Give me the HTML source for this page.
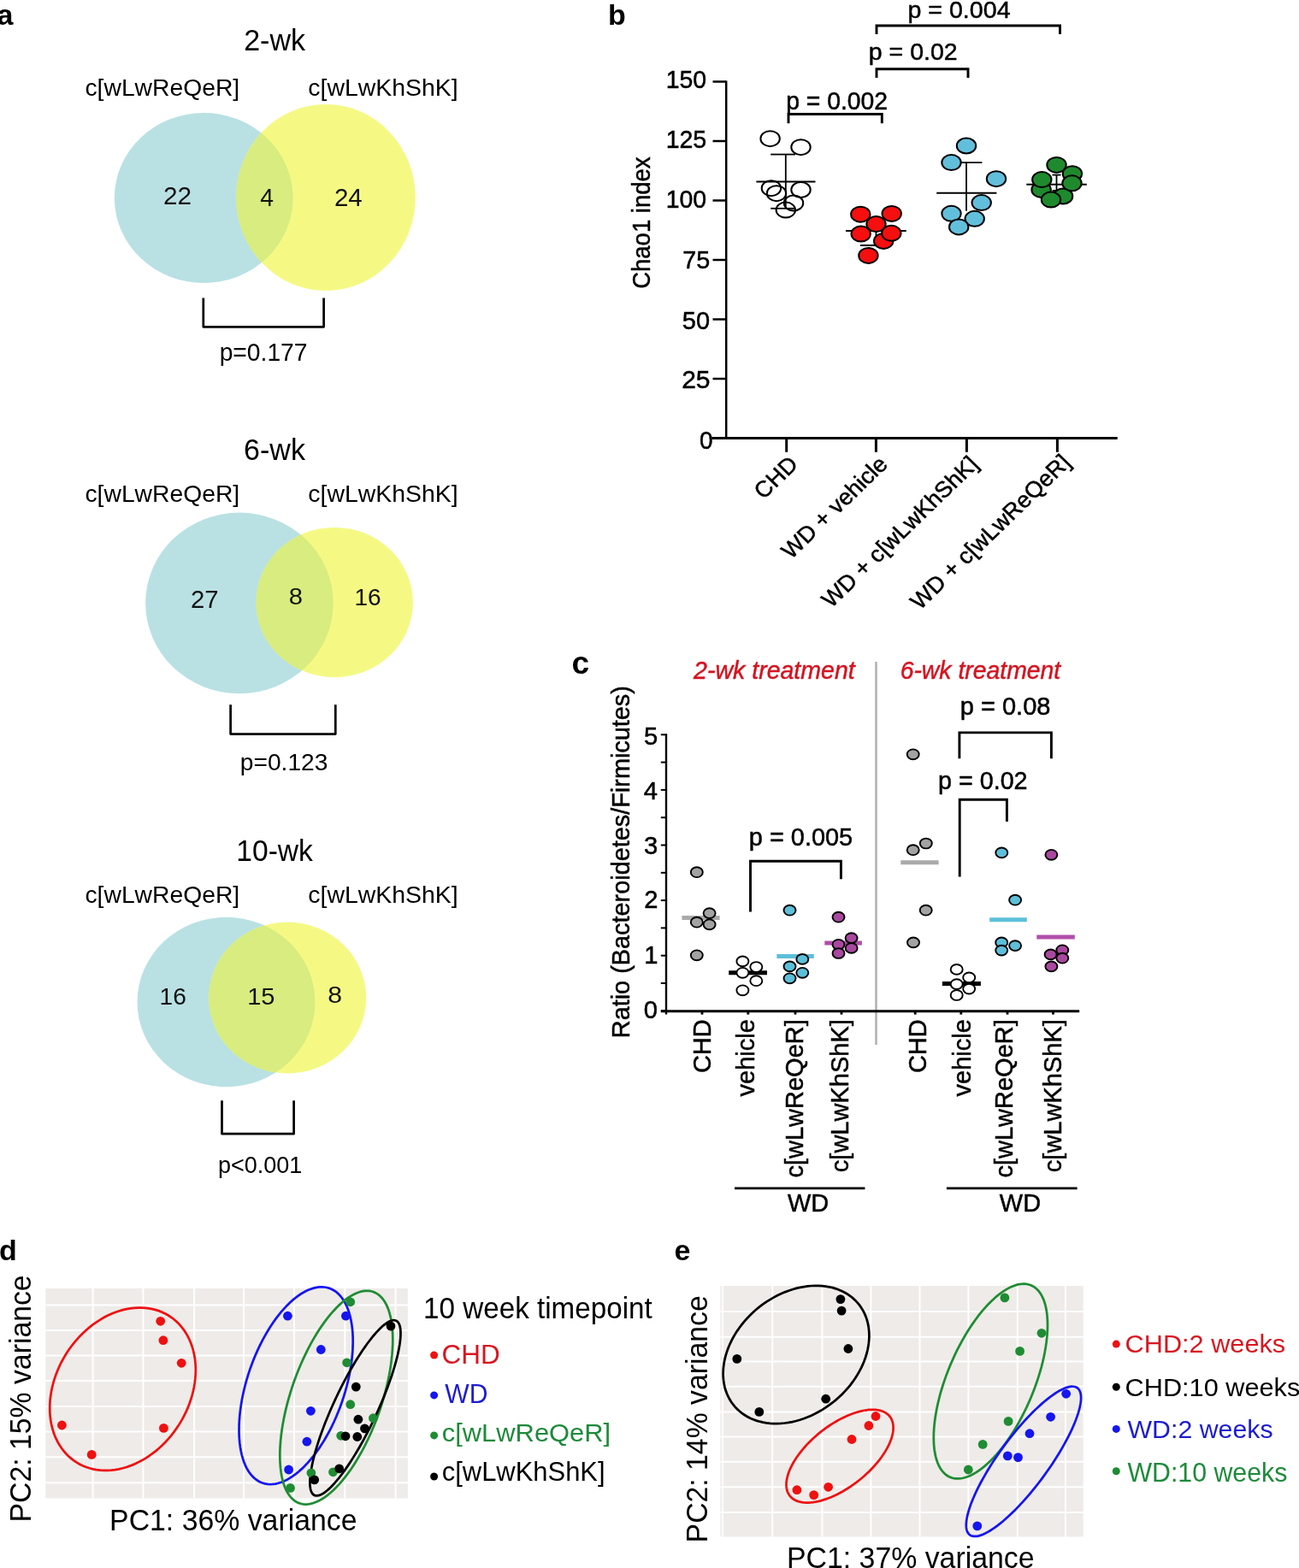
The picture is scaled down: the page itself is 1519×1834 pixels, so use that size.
<!DOCTYPE html>
<html><head><meta charset="utf-8"><title>Figure</title>
<style>
html,body{margin:0;padding:0;background:#fff;}
svg{display:block;font-family:'Liberation Sans', Arial, sans-serif;}
</style></head>
<body>
<svg width="1519" height="1834" viewBox="0 0 1519 1834">
<rect width="1519" height="1834" fill="#fff"/>
<text x="-3.5" y="29.0" font-size="34" font-weight="bold">a</text>
<text x="285.20" y="58.80" font-size="34.57" textLength="71.85" lengthAdjust="spacingAndGlyphs">2-wk</text>
<text x="99.47" y="111.60" font-size="26.81" textLength="180.73" lengthAdjust="spacingAndGlyphs">c[wLwReQeR]</text>
<text x="360.36" y="111.60" font-size="26.81" textLength="175.26" lengthAdjust="spacingAndGlyphs">c[wLwKhShK]</text>
<clipPath id="clipL1"><ellipse cx="238.2" cy="231.5" rx="104.4" ry="99.5"/></clipPath>
<ellipse cx="238.2" cy="231.5" rx="104.4" ry="99.5" fill="#b9e1e3"/>
<ellipse cx="381.0" cy="231.0" rx="104.8" ry="109.0" fill="#f5f984"/>
<ellipse cx="381.0" cy="231.0" rx="104.8" ry="109.0" fill="#d8ec7f" clip-path="url(#clipL1)"/>
<text x="190.91" y="239.30" font-size="28.86" textLength="33.15" lengthAdjust="spacingAndGlyphs" fill="#111">22</text>
<text x="304.23" y="241.30" font-size="28.71" textLength="15.75" lengthAdjust="spacingAndGlyphs" fill="#111">4</text>
<text x="390.92" y="241.30" font-size="28.71" textLength="32.83" lengthAdjust="spacingAndGlyphs" fill="#111">24</text>
<polyline points="237.8,348.4 237.8,382.3 378.6,382.3 378.6,348.4" fill="none" stroke="#000" stroke-width="2.7" stroke-linejoin="round"/>
<text x="256.67" y="422.10" font-size="28.86" textLength="102.82" lengthAdjust="spacingAndGlyphs">p=0.177</text>
<text x="285.10" y="538.40" font-size="34.43" textLength="71.85" lengthAdjust="spacingAndGlyphs">6-wk</text>
<text x="99.47" y="587.30" font-size="27.25" textLength="180.73" lengthAdjust="spacingAndGlyphs">c[wLwReQeR]</text>
<text x="360.36" y="587.30" font-size="27.25" textLength="175.26" lengthAdjust="spacingAndGlyphs">c[wLwKhShK]</text>
<clipPath id="clipL2"><ellipse cx="279.85" cy="705.35" rx="109.85" ry="105.85"/></clipPath>
<ellipse cx="279.9" cy="705.4" rx="109.8" ry="105.8" fill="#b9e1e3"/>
<ellipse cx="391.2" cy="704.6" rx="91.7" ry="87.7" fill="#f5f984"/>
<ellipse cx="391.2" cy="704.6" rx="91.7" ry="87.7" fill="#d8ec7f" clip-path="url(#clipL2)"/>
<text x="223.03" y="710.90" font-size="28.86" textLength="32.60" lengthAdjust="spacingAndGlyphs" fill="#111">27</text>
<text x="337.89" y="707.20" font-size="28.29" textLength="16.21" lengthAdjust="spacingAndGlyphs" fill="#111">8</text>
<text x="414.50" y="707.60" font-size="28.14" textLength="31.19" lengthAdjust="spacingAndGlyphs" fill="#111">16</text>
<polyline points="269.6,824.2 269.6,858.6 392.3,858.6 392.3,824.2" fill="none" stroke="#000" stroke-width="2.7" stroke-linejoin="round"/>
<text x="280.87" y="900.60" font-size="27.86" textLength="102.53" lengthAdjust="spacingAndGlyphs">p=0.123</text>
<text x="276.28" y="1006.70" font-size="35.00" textLength="89.64" lengthAdjust="spacingAndGlyphs">10-wk</text>
<text x="99.47" y="1055.60" font-size="27.10" textLength="180.73" lengthAdjust="spacingAndGlyphs">c[wLwReQeR]</text>
<text x="360.36" y="1055.60" font-size="27.10" textLength="175.26" lengthAdjust="spacingAndGlyphs">c[wLwKhShK]</text>
<clipPath id="clipL3"><ellipse cx="264.5" cy="1172" rx="104" ry="99.2"/></clipPath>
<ellipse cx="264.5" cy="1172.0" rx="104.0" ry="99.2" fill="#b9e1e3"/>
<ellipse cx="336.2" cy="1167.0" rx="92.0" ry="88.5" fill="#f5f984"/>
<ellipse cx="336.2" cy="1167.0" rx="92.0" ry="88.5" fill="#d8ec7f" clip-path="url(#clipL3)"/>
<text x="186.59" y="1174.80" font-size="28.29" textLength="31.30" lengthAdjust="spacingAndGlyphs" fill="#111">16</text>
<text x="289.22" y="1174.80" font-size="28.29" textLength="32.31" lengthAdjust="spacingAndGlyphs" fill="#111">15</text>
<text x="383.24" y="1172.90" font-size="27.86" textLength="16.80" lengthAdjust="spacingAndGlyphs" fill="#111">8</text>
<polyline points="259.5,1287.3 259.5,1326.2 343.6,1326.2 343.6,1287.3" fill="none" stroke="#000" stroke-width="2.7" stroke-linejoin="round"/>
<text x="254.94" y="1371.60" font-size="27.57" textLength="98.44" lengthAdjust="spacingAndGlyphs">p&lt;0.001</text>
<text x="711.0" y="29.0" font-size="34" font-weight="bold">b</text>
<line x1="849.2" y1="94.5" x2="849.2" y2="512.5" stroke="#000" stroke-width="2.5" stroke-linecap="butt"/>
<line x1="832.5" y1="512.5" x2="1306.7" y2="512.5" stroke="#000" stroke-width="3.2" stroke-linecap="butt"/>
<line x1="833.5" y1="95.5" x2="849.2" y2="95.5" stroke="#000" stroke-width="2.5" stroke-linecap="butt"/>
<line x1="833.5" y1="165.0" x2="849.2" y2="165.0" stroke="#000" stroke-width="2.5" stroke-linecap="butt"/>
<line x1="833.5" y1="234.5" x2="849.2" y2="234.5" stroke="#000" stroke-width="2.5" stroke-linecap="butt"/>
<line x1="833.5" y1="304.0" x2="849.2" y2="304.0" stroke="#000" stroke-width="2.5" stroke-linecap="butt"/>
<line x1="833.5" y1="373.5" x2="849.2" y2="373.5" stroke="#000" stroke-width="2.5" stroke-linecap="butt"/>
<line x1="833.5" y1="443.0" x2="849.2" y2="443.0" stroke="#000" stroke-width="2.5" stroke-linecap="butt"/>
<line x1="919.7" y1="512.5" x2="919.7" y2="528.8" stroke="#000" stroke-width="3" stroke-linecap="butt"/>
<line x1="1024.4" y1="512.5" x2="1024.4" y2="528.8" stroke="#000" stroke-width="3" stroke-linecap="butt"/>
<line x1="1130.4" y1="512.5" x2="1130.4" y2="528.8" stroke="#000" stroke-width="3" stroke-linecap="butt"/>
<line x1="1236.4" y1="512.5" x2="1236.4" y2="528.8" stroke="#000" stroke-width="3" stroke-linecap="butt"/>
<text x="778.67" y="102.70" font-size="29.71" textLength="47.43" lengthAdjust="spacingAndGlyphs" stroke="#000" stroke-width="0.5">150</text>
<text x="778.66" y="172.90" font-size="29.71" textLength="47.58" lengthAdjust="spacingAndGlyphs" stroke="#000" stroke-width="0.5">125</text>
<text x="778.67" y="243.20" font-size="29.71" textLength="47.43" lengthAdjust="spacingAndGlyphs" stroke="#000" stroke-width="0.5">100</text>
<text x="798.26" y="314.00" font-size="29.71" textLength="31.95" lengthAdjust="spacingAndGlyphs" stroke="#000" stroke-width="0.5">75</text>
<text x="797.84" y="384.80" font-size="29.71" textLength="32.24" lengthAdjust="spacingAndGlyphs" stroke="#000" stroke-width="0.5">50</text>
<text x="797.20" y="453.90" font-size="29.86" textLength="33.37" lengthAdjust="spacingAndGlyphs" stroke="#000" stroke-width="0.5">25</text>
<text x="817.88" y="524.90" font-size="29.43" textLength="15.64" lengthAdjust="spacingAndGlyphs" stroke="#000" stroke-width="0.5">0</text>
<text x="0" y="0" font-size="29.86" textLength="154.26" lengthAdjust="spacingAndGlyphs" transform="translate(760.10 337.77) rotate(-90)" stroke="#000" stroke-width="0.5">Chao1 index</text>
<polyline points="922.0,144.3 922.0,133.5 1031.3,133.5 1031.3,144.3" fill="none" stroke="#000" stroke-width="2.9" stroke-linejoin="miter"/>
<polyline points="1025.0,91.0 1025.0,80.8 1132.0,80.8 1132.0,91.0" fill="none" stroke="#000" stroke-width="2.9" stroke-linejoin="miter"/>
<polyline points="1025.0,40.0 1025.0,30.0 1239.5,30.0 1239.5,40.0" fill="none" stroke="#000" stroke-width="2.9" stroke-linejoin="miter"/>
<text x="919.16" y="127.50" font-size="28.86" textLength="118.95" lengthAdjust="spacingAndGlyphs" stroke="#000" stroke-width="0.5">p = 0.002</text>
<text x="1015.85" y="70.30" font-size="28.43" textLength="103.74" lengthAdjust="spacingAndGlyphs" stroke="#000" stroke-width="0.5">p = 0.02</text>
<text x="1061.44" y="20.80" font-size="28.43" textLength="120.11" lengthAdjust="spacingAndGlyphs" stroke="#000" stroke-width="0.5">p = 0.004</text>
<text transform="translate(934.7 544.5) scale(1.035 1) rotate(-45)" font-size="26.4" text-anchor="end" stroke="#000" stroke-width="0.5">CHD</text>
<text transform="translate(1039.4 544.5) scale(1.035 1) rotate(-45)" font-size="26.4" text-anchor="end" stroke="#000" stroke-width="0.5">WD + vehicle</text>
<text transform="translate(1145.4 544.5) scale(1.035 1) rotate(-45)" font-size="26.4" text-anchor="end" stroke="#000" stroke-width="0.5">WD + c[wLwKhShK]</text>
<text transform="translate(1253.4 542.5) scale(1.035 1) rotate(-45)" font-size="26.4" text-anchor="end" stroke="#000" stroke-width="0.5">WD + c[wLwReQeR]</text>
<line x1="918.8" y1="180.6" x2="918.8" y2="243.8" stroke="#000" stroke-width="1.8" stroke-linecap="butt"/>
<line x1="901.2" y1="180.6" x2="930.0" y2="180.6" stroke="#000" stroke-width="1.8" stroke-linecap="butt"/>
<line x1="901.2" y1="243.8" x2="930.0" y2="243.8" stroke="#000" stroke-width="1.8" stroke-linecap="butt"/>
<line x1="884.4" y1="212.5" x2="953.5" y2="212.5" stroke="#000" stroke-width="2" stroke-linecap="butt"/>
<ellipse cx="900.6" cy="162.2" rx="11.2" ry="9.0" fill="none" stroke="#000" stroke-width="2"/>
<ellipse cx="936.5" cy="172.2" rx="11.2" ry="9.0" fill="none" stroke="#000" stroke-width="2"/>
<ellipse cx="901.9" cy="220.2" rx="11.2" ry="9.0" fill="none" stroke="#000" stroke-width="2"/>
<ellipse cx="908.0" cy="226.2" rx="11.2" ry="9.0" fill="none" stroke="#000" stroke-width="2"/>
<ellipse cx="936.5" cy="222.0" rx="11.2" ry="9.0" fill="none" stroke="#000" stroke-width="2"/>
<ellipse cx="928.0" cy="237.5" rx="11.2" ry="9.0" fill="none" stroke="#000" stroke-width="2"/>
<ellipse cx="918.8" cy="245.6" rx="11.2" ry="9.0" fill="none" stroke="#000" stroke-width="2"/>
<line x1="1024.5" y1="262.0" x2="1024.5" y2="287.0" stroke="#000" stroke-width="1.8" stroke-linecap="butt"/>
<line x1="1006.0" y1="287.0" x2="1023.0" y2="287.0" stroke="#000" stroke-width="2" stroke-linecap="butt"/>
<line x1="989.0" y1="269.9" x2="1059.7" y2="269.9" stroke="#000" stroke-width="2" stroke-linecap="butt"/>
<ellipse cx="1006.3" cy="250.7" rx="11.2" ry="9.0" fill="#f50f0f" stroke="#000" stroke-width="2"/>
<ellipse cx="1042.7" cy="249.9" rx="11.2" ry="9.0" fill="#f50f0f" stroke="#000" stroke-width="2"/>
<ellipse cx="1024.5" cy="262.1" rx="11.2" ry="9.0" fill="#f50f0f" stroke="#000" stroke-width="2"/>
<ellipse cx="1006.7" cy="273.6" rx="11.2" ry="9.0" fill="#f50f0f" stroke="#000" stroke-width="2"/>
<ellipse cx="1033.2" cy="281.9" rx="11.2" ry="9.0" fill="#f50f0f" stroke="#000" stroke-width="2"/>
<ellipse cx="1042.3" cy="272.8" rx="11.2" ry="9.0" fill="#f50f0f" stroke="#000" stroke-width="2"/>
<ellipse cx="1015.4" cy="298.9" rx="11.2" ry="9.0" fill="#f50f0f" stroke="#000" stroke-width="2"/>
<line x1="1130.0" y1="190.1" x2="1130.0" y2="246.8" stroke="#000" stroke-width="1.8" stroke-linecap="butt"/>
<line x1="1112.0" y1="190.1" x2="1148.4" y2="190.1" stroke="#000" stroke-width="1.8" stroke-linecap="butt"/>
<line x1="1095.2" y1="225.8" x2="1165.4" y2="225.8" stroke="#000" stroke-width="2" stroke-linecap="butt"/>
<ellipse cx="1130.0" cy="170.5" rx="11.2" ry="9.0" fill="#62bfdc" stroke="#000" stroke-width="2"/>
<ellipse cx="1112.5" cy="190.1" rx="11.2" ry="9.0" fill="#62bfdc" stroke="#000" stroke-width="2"/>
<ellipse cx="1165.0" cy="209.2" rx="11.2" ry="9.0" fill="#62bfdc" stroke="#000" stroke-width="2"/>
<ellipse cx="1147.7" cy="237.1" rx="11.2" ry="9.0" fill="#62bfdc" stroke="#000" stroke-width="2"/>
<ellipse cx="1112.5" cy="249.8" rx="11.2" ry="9.0" fill="#62bfdc" stroke="#000" stroke-width="2"/>
<ellipse cx="1139.7" cy="255.8" rx="11.2" ry="9.0" fill="#62bfdc" stroke="#000" stroke-width="2"/>
<ellipse cx="1121.2" cy="265.4" rx="11.2" ry="9.0" fill="#62bfdc" stroke="#000" stroke-width="2"/>
<line x1="1235.5" y1="204.6" x2="1235.5" y2="223.0" stroke="#000" stroke-width="1.8" stroke-linecap="butt"/>
<line x1="1230.5" y1="204.6" x2="1240.5" y2="204.6" stroke="#000" stroke-width="1.8" stroke-linecap="butt"/>
<line x1="1230.5" y1="223.0" x2="1240.5" y2="223.0" stroke="#000" stroke-width="1.8" stroke-linecap="butt"/>
<line x1="1200.3" y1="215.7" x2="1270.8" y2="215.7" stroke="#000" stroke-width="2" stroke-linecap="butt"/>
<ellipse cx="1235.5" cy="192.9" rx="11.2" ry="9.0" fill="#1f8a2d" stroke="#000" stroke-width="2"/>
<ellipse cx="1253.9" cy="203.2" rx="11.2" ry="9.0" fill="#1f8a2d" stroke="#000" stroke-width="2"/>
<ellipse cx="1217.6" cy="221.9" rx="11.2" ry="9.0" fill="#1f8a2d" stroke="#000" stroke-width="2"/>
<ellipse cx="1218.3" cy="210.1" rx="11.2" ry="9.0" fill="#1f8a2d" stroke="#000" stroke-width="2"/>
<ellipse cx="1243.1" cy="229.5" rx="11.2" ry="9.0" fill="#1f8a2d" stroke="#000" stroke-width="2"/>
<ellipse cx="1229.0" cy="233.6" rx="11.2" ry="9.0" fill="#1f8a2d" stroke="#000" stroke-width="2"/>
<ellipse cx="1253.5" cy="214.3" rx="11.2" ry="9.0" fill="#1f8a2d" stroke="#000" stroke-width="2"/>
<text x="668.5" y="787.5" font-size="37" font-weight="bold">c</text>
<text x="811.04" y="793.80" font-size="29.43" textLength="188.71" lengthAdjust="spacingAndGlyphs" font-style="italic" fill="#d41420" stroke="#d41420" stroke-width="0.5">2-wk treatment</text>
<text x="1052.64" y="793.80" font-size="29.43" textLength="187.62" lengthAdjust="spacingAndGlyphs" font-style="italic" fill="#d41420" stroke="#d41420" stroke-width="0.5">6-wk treatment</text>
<line x1="1024.5" y1="774.0" x2="1024.5" y2="1222.0" stroke="#b3b3b3" stroke-width="2.6" stroke-linecap="butt"/>
<line x1="779.0" y1="858.3" x2="779.0" y2="1186.5" stroke="#000" stroke-width="2.4" stroke-linecap="butt"/>
<line x1="772.8" y1="1182.8" x2="1262.2" y2="1182.8" stroke="#000" stroke-width="3.0" stroke-linecap="butt"/>
<line x1="772.8" y1="1182.3" x2="779.0" y2="1182.3" stroke="#000" stroke-width="2.0" stroke-linecap="butt"/>
<line x1="772.8" y1="1150.0" x2="779.0" y2="1150.0" stroke="#000" stroke-width="2.0" stroke-linecap="butt"/>
<line x1="772.8" y1="1117.7" x2="779.0" y2="1117.7" stroke="#000" stroke-width="2.0" stroke-linecap="butt"/>
<line x1="772.8" y1="1085.4" x2="779.0" y2="1085.4" stroke="#000" stroke-width="2.0" stroke-linecap="butt"/>
<line x1="772.8" y1="1053.1" x2="779.0" y2="1053.1" stroke="#000" stroke-width="2.0" stroke-linecap="butt"/>
<line x1="772.8" y1="1020.8" x2="779.0" y2="1020.8" stroke="#000" stroke-width="2.0" stroke-linecap="butt"/>
<line x1="772.8" y1="988.5" x2="779.0" y2="988.5" stroke="#000" stroke-width="2.0" stroke-linecap="butt"/>
<line x1="772.8" y1="956.2" x2="779.0" y2="956.2" stroke="#000" stroke-width="2.0" stroke-linecap="butt"/>
<line x1="772.8" y1="923.9" x2="779.0" y2="923.9" stroke="#000" stroke-width="2.0" stroke-linecap="butt"/>
<line x1="772.8" y1="891.6" x2="779.0" y2="891.6" stroke="#000" stroke-width="2.0" stroke-linecap="butt"/>
<line x1="772.8" y1="859.3" x2="779.0" y2="859.3" stroke="#000" stroke-width="2.0" stroke-linecap="butt"/>
<text x="752.99" y="870.55" font-size="29.14" textLength="16.21" lengthAdjust="spacingAndGlyphs" stroke="#000" stroke-width="0.5">5</text>
<text x="752.70" y="934.75" font-size="29.14" textLength="16.21" lengthAdjust="spacingAndGlyphs" stroke="#000" stroke-width="0.5">4</text>
<text x="752.99" y="998.70" font-size="29.14" textLength="16.21" lengthAdjust="spacingAndGlyphs" stroke="#000" stroke-width="0.5">3</text>
<text x="753.28" y="1062.15" font-size="29.14" textLength="16.21" lengthAdjust="spacingAndGlyphs" stroke="#000" stroke-width="0.5">2</text>
<text x="753.14" y="1126.60" font-size="29.14" textLength="16.21" lengthAdjust="spacingAndGlyphs" stroke="#000" stroke-width="0.5">1</text>
<text x="752.85" y="1191.30" font-size="29.14" textLength="16.21" lengthAdjust="spacingAndGlyphs" stroke="#000" stroke-width="0.5">0</text>
<line x1="821.0" y1="1182.5" x2="821.0" y2="1186.6" stroke="#000" stroke-width="2.8" stroke-linecap="butt"/>
<line x1="874.8" y1="1182.5" x2="874.8" y2="1186.6" stroke="#000" stroke-width="2.8" stroke-linecap="butt"/>
<line x1="930.0" y1="1182.5" x2="930.0" y2="1186.6" stroke="#000" stroke-width="2.8" stroke-linecap="butt"/>
<line x1="984.0" y1="1182.5" x2="984.0" y2="1186.6" stroke="#000" stroke-width="2.8" stroke-linecap="butt"/>
<line x1="1070.2" y1="1182.5" x2="1070.2" y2="1186.6" stroke="#000" stroke-width="2.8" stroke-linecap="butt"/>
<line x1="1123.8" y1="1182.5" x2="1123.8" y2="1186.6" stroke="#000" stroke-width="2.8" stroke-linecap="butt"/>
<line x1="1178.0" y1="1182.5" x2="1178.0" y2="1186.6" stroke="#000" stroke-width="2.8" stroke-linecap="butt"/>
<line x1="1231.5" y1="1182.5" x2="1231.5" y2="1186.6" stroke="#000" stroke-width="2.8" stroke-linecap="butt"/>
<text x="0" y="0" font-size="29.42" textLength="412.12" lengthAdjust="spacingAndGlyphs" transform="translate(735.70 1214.21) rotate(-90)" stroke="#000" stroke-width="0.5">Ratio (Bacteroidetes/Firmicutes)</text>
<polyline points="877.5,1066.4 877.5,1007.2 983.4,1007.2 983.4,1028.2" fill="none" stroke="#000" stroke-width="2.9" stroke-linejoin="miter"/>
<polyline points="1121.9,887.3 1121.9,856.9 1229.4,856.9 1229.4,887.3" fill="none" stroke="#000" stroke-width="2.9" stroke-linejoin="miter"/>
<polyline points="1122.2,1025.5 1122.2,935.3 1177.4,935.3 1177.4,961.0" fill="none" stroke="#000" stroke-width="2.9" stroke-linejoin="miter"/>
<text x="875.82" y="989.30" font-size="29.00" textLength="121.33" lengthAdjust="spacingAndGlyphs" stroke="#000" stroke-width="0.5">p = 0.005</text>
<text x="1122.71" y="835.70" font-size="29.00" textLength="105.71" lengthAdjust="spacingAndGlyphs" stroke="#000" stroke-width="0.5">p = 0.08</text>
<text x="1097.03" y="923.30" font-size="28.57" textLength="104.56" lengthAdjust="spacingAndGlyphs" stroke="#000" stroke-width="0.5">p = 0.02</text>
<text x="831.0" y="1192.2" font-size="29" text-anchor="end" transform="rotate(-90 831.0 1192.2)" stroke="#000" stroke-width="0.5">CHD</text>
<text x="882.4" y="1192.2" font-size="29" text-anchor="end" transform="rotate(-90 882.4 1192.2)" stroke="#000" stroke-width="0.5">vehicle</text>
<text x="939.5" y="1192.2" font-size="29" text-anchor="end" transform="rotate(-90 939.5 1192.2)" stroke="#000" stroke-width="0.5">c[wLwReQeR]</text>
<text x="991.9" y="1192.2" font-size="29" text-anchor="end" transform="rotate(-90 991.9 1192.2)" stroke="#000" stroke-width="0.5">c[wLwKhShK]</text>
<text x="1082.6" y="1192.2" font-size="29" text-anchor="end" transform="rotate(-90 1082.6 1192.2)" stroke="#000" stroke-width="0.5">CHD</text>
<text x="1135.0" y="1192.2" font-size="29" text-anchor="end" transform="rotate(-90 1135.0 1192.2)" stroke="#000" stroke-width="0.5">vehicle</text>
<text x="1184.2" y="1192.2" font-size="29" text-anchor="end" transform="rotate(-90 1184.2 1192.2)" stroke="#000" stroke-width="0.5">c[wLwReQeR]</text>
<text x="1240.6" y="1192.2" font-size="29" text-anchor="end" transform="rotate(-90 1240.6 1192.2)" stroke="#000" stroke-width="0.5">c[wLwKhShK]</text>
<line x1="859.0" y1="1389.9" x2="1011.4" y2="1389.9" stroke="#000" stroke-width="2.6" stroke-linecap="butt"/>
<line x1="1106.9" y1="1389.9" x2="1259.6" y2="1389.9" stroke="#000" stroke-width="2.6" stroke-linecap="butt"/>
<text x="920.96" y="1416.60" font-size="29.71" textLength="48.18" lengthAdjust="spacingAndGlyphs" stroke="#000" stroke-width="0.5">WD</text>
<text x="1168.86" y="1416.60" font-size="29.71" textLength="48.18" lengthAdjust="spacingAndGlyphs" stroke="#000" stroke-width="0.5">WD</text>
<line x1="797.4" y1="1073.6" x2="841.6" y2="1073.6" stroke="#aaaaaa" stroke-width="5" stroke-linecap="butt"/>
<ellipse cx="814.8" cy="1020.2" rx="7.0" ry="5.9" fill="#a3a3a3" stroke="#000" stroke-width="1.9"/>
<ellipse cx="829.6" cy="1068.1" rx="7.0" ry="5.9" fill="#a3a3a3" stroke="#000" stroke-width="1.9"/>
<ellipse cx="814.8" cy="1078.7" rx="7.0" ry="5.9" fill="#a3a3a3" stroke="#000" stroke-width="1.9"/>
<ellipse cx="829.6" cy="1081.3" rx="7.0" ry="5.9" fill="#a3a3a3" stroke="#000" stroke-width="1.9"/>
<ellipse cx="814.8" cy="1117.3" rx="7.0" ry="5.9" fill="#a3a3a3" stroke="#000" stroke-width="1.9"/>
<line x1="852.2" y1="1137.8" x2="897.0" y2="1137.8" stroke="#000" stroke-width="5" stroke-linecap="butt"/>
<ellipse cx="868.4" cy="1124.4" rx="7.0" ry="5.9" fill="#fff" stroke="#000" stroke-width="1.9"/>
<ellipse cx="884.3" cy="1131.0" rx="7.0" ry="5.9" fill="#fff" stroke="#000" stroke-width="1.9"/>
<ellipse cx="868.4" cy="1137.8" rx="7.0" ry="5.9" fill="#fff" stroke="#000" stroke-width="1.9"/>
<ellipse cx="884.3" cy="1147.2" rx="7.0" ry="5.9" fill="#fff" stroke="#000" stroke-width="1.9"/>
<ellipse cx="868.4" cy="1158.3" rx="7.0" ry="5.9" fill="#fff" stroke="#000" stroke-width="1.9"/>
<line x1="908.3" y1="1118.6" x2="951.8" y2="1118.6" stroke="#5dbfd9" stroke-width="5" stroke-linecap="butt"/>
<ellipse cx="923.5" cy="1064.7" rx="7.0" ry="5.9" fill="#5dbfd9" stroke="#000" stroke-width="1.9"/>
<ellipse cx="938.3" cy="1121.9" rx="7.0" ry="5.9" fill="#5dbfd9" stroke="#000" stroke-width="1.9"/>
<ellipse cx="923.5" cy="1130.4" rx="7.0" ry="5.9" fill="#5dbfd9" stroke="#000" stroke-width="1.9"/>
<ellipse cx="938.3" cy="1137.8" rx="7.0" ry="5.9" fill="#5dbfd9" stroke="#000" stroke-width="1.9"/>
<ellipse cx="923.5" cy="1144.3" rx="7.0" ry="5.9" fill="#5dbfd9" stroke="#000" stroke-width="1.9"/>
<line x1="964.3" y1="1103.0" x2="1007.9" y2="1103.0" stroke="#b14fa9" stroke-width="5" stroke-linecap="butt"/>
<ellipse cx="980.5" cy="1072.7" rx="7.0" ry="5.9" fill="#a9489f" stroke="#000" stroke-width="1.9"/>
<ellipse cx="995.6" cy="1097.1" rx="7.0" ry="5.9" fill="#a9489f" stroke="#000" stroke-width="1.9"/>
<ellipse cx="980.5" cy="1104.8" rx="7.0" ry="5.9" fill="#a9489f" stroke="#000" stroke-width="1.9"/>
<ellipse cx="995.6" cy="1108.9" rx="7.0" ry="5.9" fill="#a9489f" stroke="#000" stroke-width="1.9"/>
<ellipse cx="980.5" cy="1115.0" rx="7.0" ry="5.9" fill="#a9489f" stroke="#000" stroke-width="1.9"/>
<line x1="1053.3" y1="1008.8" x2="1097.6" y2="1008.8" stroke="#aaaaaa" stroke-width="5" stroke-linecap="butt"/>
<ellipse cx="1067.7" cy="882.3" rx="7.0" ry="5.9" fill="#a3a3a3" stroke="#000" stroke-width="1.9"/>
<ellipse cx="1082.8" cy="986.5" rx="7.0" ry="5.9" fill="#a3a3a3" stroke="#000" stroke-width="1.9"/>
<ellipse cx="1067.7" cy="994.2" rx="7.0" ry="5.9" fill="#a3a3a3" stroke="#000" stroke-width="1.9"/>
<ellipse cx="1082.7" cy="1064.7" rx="7.0" ry="5.9" fill="#a3a3a3" stroke="#000" stroke-width="1.9"/>
<ellipse cx="1068.0" cy="1102.4" rx="7.0" ry="5.9" fill="#a3a3a3" stroke="#000" stroke-width="1.9"/>
<line x1="1101.9" y1="1150.6" x2="1146.9" y2="1150.6" stroke="#000" stroke-width="5" stroke-linecap="butt"/>
<ellipse cx="1118.7" cy="1133.9" rx="7.0" ry="5.9" fill="#fff" stroke="#000" stroke-width="1.9"/>
<ellipse cx="1133.2" cy="1143.4" rx="7.0" ry="5.9" fill="#fff" stroke="#000" stroke-width="1.9"/>
<ellipse cx="1118.7" cy="1151.1" rx="7.0" ry="5.9" fill="#fff" stroke="#000" stroke-width="1.9"/>
<ellipse cx="1133.2" cy="1156.6" rx="7.0" ry="5.9" fill="#fff" stroke="#000" stroke-width="1.9"/>
<ellipse cx="1118.7" cy="1164.0" rx="7.0" ry="5.9" fill="#fff" stroke="#000" stroke-width="1.9"/>
<line x1="1157.2" y1="1075.8" x2="1200.8" y2="1075.8" stroke="#5dbfd9" stroke-width="5" stroke-linecap="butt"/>
<ellipse cx="1171.3" cy="997.4" rx="7.0" ry="5.9" fill="#5dbfd9" stroke="#000" stroke-width="1.9"/>
<ellipse cx="1187.1" cy="1052.7" rx="7.0" ry="5.9" fill="#5dbfd9" stroke="#000" stroke-width="1.9"/>
<ellipse cx="1171.2" cy="1102.4" rx="7.0" ry="5.9" fill="#5dbfd9" stroke="#000" stroke-width="1.9"/>
<ellipse cx="1187.1" cy="1106.1" rx="7.0" ry="5.9" fill="#5dbfd9" stroke="#000" stroke-width="1.9"/>
<ellipse cx="1171.2" cy="1111.6" rx="7.0" ry="5.9" fill="#5dbfd9" stroke="#000" stroke-width="1.9"/>
<line x1="1212.3" y1="1095.9" x2="1256.8" y2="1095.9" stroke="#b14fa9" stroke-width="5" stroke-linecap="butt"/>
<ellipse cx="1229.4" cy="999.8" rx="7.0" ry="5.9" fill="#a9489f" stroke="#000" stroke-width="1.9"/>
<ellipse cx="1242.3" cy="1111.3" rx="7.0" ry="5.9" fill="#a9489f" stroke="#000" stroke-width="1.9"/>
<ellipse cx="1228.6" cy="1116.4" rx="7.0" ry="5.9" fill="#a9489f" stroke="#000" stroke-width="1.9"/>
<ellipse cx="1242.3" cy="1120.7" rx="7.0" ry="5.9" fill="#a9489f" stroke="#000" stroke-width="1.9"/>
<ellipse cx="1229.4" cy="1130.4" rx="7.0" ry="5.9" fill="#a9489f" stroke="#000" stroke-width="1.9"/>
<text x="-1.0" y="1473.5" font-size="34" font-weight="bold">d</text>
<rect x="53.4" y="1507" width="423.4" height="245.4" fill="#eeebe8"/>
<line x1="108.6" y1="1507.0" x2="108.6" y2="1752.4" stroke="#fff" stroke-width="2.0" stroke-linecap="butt"/>
<line x1="167.4" y1="1507.0" x2="167.4" y2="1752.4" stroke="#fff" stroke-width="2.0" stroke-linecap="butt"/>
<line x1="227.1" y1="1507.0" x2="227.1" y2="1752.4" stroke="#fff" stroke-width="2.0" stroke-linecap="butt"/>
<line x1="285.0" y1="1507.0" x2="285.0" y2="1752.4" stroke="#fff" stroke-width="2.0" stroke-linecap="butt"/>
<line x1="344.0" y1="1507.0" x2="344.0" y2="1752.4" stroke="#fff" stroke-width="2.0" stroke-linecap="butt"/>
<line x1="403.3" y1="1507.0" x2="403.3" y2="1752.4" stroke="#fff" stroke-width="2.0" stroke-linecap="butt"/>
<line x1="462.6" y1="1507.0" x2="462.6" y2="1752.4" stroke="#fff" stroke-width="2.0" stroke-linecap="butt"/>
<line x1="53.4" y1="1526.5" x2="476.8" y2="1526.5" stroke="#fff" stroke-width="2.0" stroke-linecap="butt"/>
<line x1="53.4" y1="1556.0" x2="476.8" y2="1556.0" stroke="#fff" stroke-width="2.0" stroke-linecap="butt"/>
<line x1="53.4" y1="1585.5" x2="476.8" y2="1585.5" stroke="#fff" stroke-width="2.0" stroke-linecap="butt"/>
<line x1="53.4" y1="1615.0" x2="476.8" y2="1615.0" stroke="#fff" stroke-width="2.0" stroke-linecap="butt"/>
<line x1="53.4" y1="1644.9" x2="476.8" y2="1644.9" stroke="#fff" stroke-width="2.0" stroke-linecap="butt"/>
<line x1="53.4" y1="1674.4" x2="476.8" y2="1674.4" stroke="#fff" stroke-width="2.0" stroke-linecap="butt"/>
<line x1="53.4" y1="1704.3" x2="476.8" y2="1704.3" stroke="#fff" stroke-width="2.0" stroke-linecap="butt"/>
<line x1="53.4" y1="1734.2" x2="476.8" y2="1734.2" stroke="#fff" stroke-width="2.0" stroke-linecap="butt"/>
<path d="M228.80,1602.43 L228.68,1607.30 L228.33,1612.22 L227.75,1617.18 L226.94,1622.16 L225.89,1627.14 L224.63,1632.12 L223.13,1637.07 L221.43,1642.00 L219.50,1646.87 L217.37,1651.69 L215.04,1656.43 L212.51,1661.08 L209.79,1665.64 L206.89,1670.08 L203.82,1674.40 L200.58,1678.58 L197.18,1682.61 L193.64,1686.49 L189.96,1690.19 L186.15,1693.72 L182.23,1697.06 L178.19,1700.20 L174.07,1703.13 L169.86,1705.84 L165.58,1708.34 L161.23,1710.60 L156.84,1712.63 L152.42,1714.42 L147.96,1715.96 L143.50,1717.26 L139.04,1718.30 L134.58,1719.08 L130.16,1719.60 L125.77,1719.87 L121.42,1719.87 L117.14,1719.61 L112.93,1719.09 L108.81,1718.32 L104.77,1717.28 L100.85,1715.99 L97.04,1714.46 L93.36,1712.67 L89.82,1710.65 L86.42,1708.39 L83.18,1705.90 L80.11,1703.19 L77.21,1700.26 L74.49,1697.12 L71.96,1693.79 L69.63,1690.27 L67.50,1686.57 L65.57,1682.70 L63.87,1678.66 L62.37,1674.49 L61.11,1670.17 L60.06,1665.73 L59.25,1661.18 L58.67,1656.53 L58.32,1651.79 L58.20,1646.97 L58.32,1642.10 L58.67,1637.18 L59.25,1632.22 L60.06,1627.24 L61.11,1622.26 L62.37,1617.28 L63.87,1612.33 L65.57,1607.40 L67.50,1602.53 L69.63,1597.71 L71.96,1592.97 L74.49,1588.32 L77.21,1583.76 L80.11,1579.32 L83.18,1575.00 L86.42,1570.82 L89.82,1566.79 L93.36,1562.91 L97.04,1559.21 L100.85,1555.68 L104.77,1552.34 L108.81,1549.20 L112.93,1546.27 L117.14,1543.56 L121.42,1541.06 L125.77,1538.80 L130.16,1536.77 L134.58,1534.98 L139.04,1533.44 L143.50,1532.14 L147.96,1531.10 L152.42,1530.32 L156.84,1529.80 L161.23,1529.53 L165.58,1529.53 L169.86,1529.79 L174.07,1530.31 L178.19,1531.08 L182.23,1532.12 L186.15,1533.41 L189.96,1534.94 L193.64,1536.73 L197.18,1538.75 L200.58,1541.01 L203.82,1543.50 L206.89,1546.21 L209.79,1549.14 L212.51,1552.28 L215.04,1555.61 L217.37,1559.13 L219.50,1562.83 L221.43,1566.70 L223.13,1570.74 L224.63,1574.91 L225.89,1579.23 L226.94,1583.67 L227.75,1588.22 L228.33,1592.87 L228.68,1597.61 Z" fill="none" stroke="#ee1111" stroke-width="2.75"/>
<path d="M412.70,1568.97 L412.61,1574.44 L412.34,1580.04 L411.88,1585.75 L411.24,1591.55 L410.43,1597.43 L409.44,1603.38 L408.28,1609.38 L406.94,1615.40 L405.44,1621.44 L403.78,1627.48 L401.96,1633.50 L399.98,1639.49 L397.86,1645.42 L395.59,1651.29 L393.19,1657.07 L390.66,1662.75 L388.01,1668.32 L385.25,1673.75 L382.37,1679.04 L379.40,1684.17 L376.34,1689.13 L373.19,1693.90 L369.97,1698.47 L366.68,1702.82 L363.34,1706.95 L359.95,1710.85 L356.52,1714.50 L353.06,1717.89 L349.59,1721.01 L346.10,1723.86 L342.61,1726.42 L339.14,1728.70 L335.68,1730.68 L332.25,1732.36 L328.86,1733.73 L325.52,1734.79 L322.23,1735.54 L319.01,1735.98 L315.86,1736.10 L312.80,1735.90 L309.83,1735.39 L306.95,1734.56 L304.19,1733.42 L301.54,1731.97 L299.01,1730.22 L296.61,1728.17 L294.34,1725.82 L292.22,1723.18 L290.24,1720.27 L288.42,1717.08 L286.76,1713.62 L285.26,1709.91 L283.92,1705.96 L282.76,1701.77 L281.77,1697.36 L280.96,1692.74 L280.32,1687.93 L279.86,1682.93 L279.59,1677.75 L279.50,1672.43 L279.59,1666.96 L279.86,1661.36 L280.32,1655.65 L280.96,1649.85 L281.77,1643.97 L282.76,1638.02 L283.92,1632.02 L285.26,1626.00 L286.76,1619.96 L288.42,1613.92 L290.24,1607.90 L292.22,1601.91 L294.34,1595.98 L296.61,1590.11 L299.01,1584.33 L301.54,1578.65 L304.19,1573.08 L306.95,1567.65 L309.83,1562.36 L312.80,1557.23 L315.86,1552.27 L319.01,1547.50 L322.23,1542.93 L325.52,1538.58 L328.86,1534.45 L332.25,1530.55 L335.68,1526.90 L339.14,1523.51 L342.61,1520.39 L346.10,1517.54 L349.59,1514.98 L353.06,1512.70 L356.52,1510.72 L359.95,1509.04 L363.34,1507.67 L366.68,1506.61 L369.97,1505.86 L373.19,1505.42 L376.34,1505.30 L379.40,1505.50 L382.37,1506.01 L385.25,1506.84 L388.01,1507.98 L390.66,1509.43 L393.19,1511.18 L395.59,1513.23 L397.86,1515.58 L399.98,1518.22 L401.96,1521.13 L403.78,1524.32 L405.44,1527.78 L406.94,1531.49 L408.28,1535.44 L409.44,1539.63 L410.43,1544.04 L411.24,1548.66 L411.88,1553.47 L412.34,1558.47 L412.61,1563.65 Z" fill="none" stroke="#1515f0" stroke-width="2.75"/>
<path d="M459.30,1566.92 L459.21,1572.50 L458.94,1578.26 L458.49,1584.16 L457.86,1590.21 L457.05,1596.38 L456.07,1602.65 L454.92,1609.01 L453.59,1615.44 L452.11,1621.92 L450.46,1628.44 L448.65,1634.97 L446.70,1641.51 L444.59,1648.02 L442.35,1654.50 L439.97,1660.92 L437.46,1667.28 L434.84,1673.54 L432.09,1679.69 L429.25,1685.73 L426.30,1691.62 L423.26,1697.35 L420.14,1702.92 L416.95,1708.30 L413.70,1713.47 L410.38,1718.43 L407.02,1723.16 L403.62,1727.65 L400.20,1731.88 L396.75,1735.85 L393.30,1739.53 L389.85,1742.93 L386.40,1746.04 L382.98,1748.84 L379.58,1751.32 L376.22,1753.49 L372.90,1755.33 L369.65,1756.84 L366.46,1758.01 L363.34,1758.85 L360.30,1759.35 L357.35,1759.50 L354.51,1759.31 L351.76,1758.78 L349.14,1757.91 L346.63,1756.70 L344.25,1755.16 L342.01,1753.29 L339.90,1751.09 L337.95,1748.57 L336.14,1745.75 L334.49,1742.61 L333.01,1739.18 L331.68,1735.47 L330.53,1731.47 L329.55,1727.22 L328.74,1722.70 L328.11,1717.95 L327.66,1712.97 L327.39,1707.77 L327.30,1702.38 L327.39,1696.80 L327.66,1691.04 L328.11,1685.14 L328.74,1679.09 L329.55,1672.92 L330.53,1666.65 L331.68,1660.29 L333.01,1653.86 L334.49,1647.38 L336.14,1640.86 L337.95,1634.33 L339.90,1627.79 L342.01,1621.28 L344.25,1614.80 L346.63,1608.38 L349.14,1602.02 L351.76,1595.76 L354.51,1589.61 L357.35,1583.57 L360.30,1577.68 L363.34,1571.95 L366.46,1566.38 L369.65,1561.00 L372.90,1555.83 L376.22,1550.87 L379.58,1546.14 L382.98,1541.65 L386.40,1537.42 L389.85,1533.45 L393.30,1529.77 L396.75,1526.37 L400.20,1523.26 L403.62,1520.46 L407.02,1517.98 L410.38,1515.81 L413.70,1513.97 L416.95,1512.46 L420.14,1511.29 L423.26,1510.45 L426.30,1509.95 L429.25,1509.80 L432.09,1509.99 L434.84,1510.52 L437.46,1511.39 L439.97,1512.60 L442.35,1514.14 L444.59,1516.01 L446.70,1518.21 L448.65,1520.73 L450.46,1523.55 L452.11,1526.69 L453.59,1530.12 L454.92,1533.83 L456.07,1537.83 L457.05,1542.08 L457.86,1546.60 L458.49,1551.35 L458.94,1556.33 L459.21,1561.53 Z" fill="none" stroke="#1f8c33" stroke-width="2.75"/>
<path d="M468.50,1559.57 L468.43,1562.52 L468.21,1565.70 L467.85,1569.10 L467.34,1572.72 L466.69,1576.53 L465.90,1580.54 L464.98,1584.74 L463.91,1589.10 L462.72,1593.62 L461.39,1598.28 L459.94,1603.08 L458.37,1608.00 L456.68,1613.03 L454.87,1618.15 L452.96,1623.35 L450.95,1628.61 L448.84,1633.92 L446.63,1639.27 L444.34,1644.63 L441.98,1650.01 L439.53,1655.37 L437.03,1660.72 L434.46,1666.02 L431.84,1671.27 L429.18,1676.46 L426.48,1681.56 L423.75,1686.57 L421.00,1691.47 L418.23,1696.24 L415.45,1700.89 L412.67,1705.38 L409.90,1709.71 L407.15,1713.87 L404.42,1717.85 L401.72,1721.63 L399.06,1725.21 L396.44,1728.57 L393.87,1731.71 L391.37,1734.62 L388.93,1737.28 L386.56,1739.70 L384.27,1741.87 L382.06,1743.77 L379.95,1745.41 L377.94,1746.77 L376.03,1747.87 L374.22,1748.68 L372.53,1749.22 L370.96,1749.48 L369.51,1749.45 L368.18,1749.15 L366.99,1748.56 L365.92,1747.69 L365.00,1746.55 L364.21,1745.14 L363.56,1743.45 L363.05,1741.50 L362.69,1739.30 L362.47,1736.83 L362.40,1734.13 L362.47,1731.18 L362.69,1728.00 L363.05,1724.60 L363.56,1720.98 L364.21,1717.17 L365.00,1713.16 L365.92,1708.96 L366.99,1704.60 L368.18,1700.08 L369.51,1695.42 L370.96,1690.62 L372.53,1685.70 L374.22,1680.67 L376.03,1675.55 L377.94,1670.35 L379.95,1665.09 L382.06,1659.78 L384.27,1654.43 L386.56,1649.07 L388.92,1643.69 L391.37,1638.33 L393.87,1632.98 L396.44,1627.68 L399.06,1622.43 L401.72,1617.24 L404.42,1612.14 L407.15,1607.13 L409.90,1602.23 L412.67,1597.46 L415.45,1592.81 L418.23,1588.32 L421.00,1583.99 L423.75,1579.83 L426.48,1575.85 L429.18,1572.07 L431.84,1568.49 L434.46,1565.13 L437.03,1561.99 L439.53,1559.08 L441.98,1556.42 L444.34,1554.00 L446.63,1551.83 L448.84,1549.93 L450.95,1548.29 L452.96,1546.93 L454.87,1545.83 L456.68,1545.02 L458.37,1544.48 L459.94,1544.22 L461.39,1544.25 L462.72,1544.55 L463.91,1545.14 L464.98,1546.01 L465.90,1547.15 L466.69,1548.56 L467.34,1550.25 L467.85,1552.20 L468.21,1554.40 L468.43,1556.87 Z" fill="none" stroke="#000" stroke-width="2.75"/>
<circle cx="187.7" cy="1545.3" r="5.4" fill="#ee1111"/>
<circle cx="190.9" cy="1567.7" r="5.4" fill="#ee1111"/>
<circle cx="212.2" cy="1594.3" r="5.4" fill="#ee1111"/>
<circle cx="72.4" cy="1667.0" r="5.4" fill="#ee1111"/>
<circle cx="191.4" cy="1670.4" r="5.4" fill="#ee1111"/>
<circle cx="107.2" cy="1701.4" r="5.4" fill="#ee1111"/>
<circle cx="336.4" cy="1539.2" r="5.4" fill="#1515f0"/>
<circle cx="404.4" cy="1539.2" r="5.4" fill="#1515f0"/>
<circle cx="375.3" cy="1578.5" r="5.4" fill="#1515f0"/>
<circle cx="363.4" cy="1650.3" r="5.4" fill="#1515f0"/>
<circle cx="358.9" cy="1686.2" r="5.4" fill="#1515f0"/>
<circle cx="337.6" cy="1719.0" r="5.4" fill="#1515f0"/>
<circle cx="409.7" cy="1522.8" r="5.4" fill="#1f8c33"/>
<circle cx="405.6" cy="1593.8" r="5.4" fill="#1f8c33"/>
<circle cx="409.7" cy="1642.7" r="5.4" fill="#1f8c33"/>
<circle cx="436.4" cy="1658.7" r="5.4" fill="#1f8c33"/>
<circle cx="398.7" cy="1679.3" r="5.4" fill="#1f8c33"/>
<circle cx="363.9" cy="1722.8" r="5.4" fill="#1f8c33"/>
<circle cx="389.5" cy="1721.8" r="5.4" fill="#1f8c33"/>
<circle cx="339.5" cy="1740.4" r="5.4" fill="#1f8c33"/>
<circle cx="457.0" cy="1551.1" r="5.4" fill="#000"/>
<circle cx="416.3" cy="1622.1" r="5.4" fill="#000"/>
<circle cx="418.9" cy="1660.2" r="5.4" fill="#000"/>
<circle cx="426.5" cy="1670.9" r="5.4" fill="#000"/>
<circle cx="404.0" cy="1679.8" r="5.4" fill="#000"/>
<circle cx="417.8" cy="1680.5" r="5.4" fill="#000"/>
<circle cx="396.7" cy="1717.8" r="5.4" fill="#000"/>
<circle cx="367.7" cy="1730.9" r="5.4" fill="#000"/>
<text x="128.10" y="1789.80" font-size="35.65" textLength="289.43" lengthAdjust="spacingAndGlyphs">PC1: 36% variance</text>
<text x="0" y="0" font-size="35.65" textLength="289.13" lengthAdjust="spacingAndGlyphs" transform="translate(35.80 1780.50) rotate(-90)">PC2: 15% variance</text>
<text x="495.11" y="1541.90" font-size="34.35" textLength="267.63" lengthAdjust="spacingAndGlyphs">10 week timepoint</text>
<circle cx="507.6" cy="1585" r="4.5" fill="#ee1111"/>
<text x="516.43" y="1594.60" font-size="31.01" textLength="68.24" lengthAdjust="spacingAndGlyphs" fill="#d81620">CHD</text>
<circle cx="507.6" cy="1631.9" r="4.5" fill="#1515f0"/>
<text x="520.35" y="1640.80" font-size="31.01" textLength="50.14" lengthAdjust="spacingAndGlyphs" fill="#1c1cd0">WD</text>
<circle cx="507.6" cy="1678.9" r="4.5" fill="#1f8c33"/>
<text x="516.76" y="1685.80" font-size="30.14" textLength="197.42" lengthAdjust="spacingAndGlyphs" fill="#1e8a3a">c[wLwReQeR]</text>
<circle cx="507.6" cy="1727" r="4.5" fill="#000"/>
<text x="516.76" y="1732.20" font-size="30.72" textLength="190.85" lengthAdjust="spacingAndGlyphs">c[wLwKhShK]</text>
<text x="788.5" y="1473.6" font-size="34" font-weight="bold">e</text>
<rect x="842.4" y="1504" width="424.3" height="293.4" fill="#eeebe8"/>
<line x1="845.0" y1="1504.0" x2="845.0" y2="1797.4" stroke="#fff" stroke-width="2.0" stroke-linecap="butt"/>
<line x1="903.2" y1="1504.0" x2="903.2" y2="1797.4" stroke="#fff" stroke-width="2.0" stroke-linecap="butt"/>
<line x1="961.4" y1="1504.0" x2="961.4" y2="1797.4" stroke="#fff" stroke-width="2.0" stroke-linecap="butt"/>
<line x1="1018.4" y1="1504.0" x2="1018.4" y2="1797.4" stroke="#fff" stroke-width="2.0" stroke-linecap="butt"/>
<line x1="1075.5" y1="1504.0" x2="1075.5" y2="1797.4" stroke="#fff" stroke-width="2.0" stroke-linecap="butt"/>
<line x1="1132.4" y1="1504.0" x2="1132.4" y2="1797.4" stroke="#fff" stroke-width="2.0" stroke-linecap="butt"/>
<line x1="1189.8" y1="1504.0" x2="1189.8" y2="1797.4" stroke="#fff" stroke-width="2.0" stroke-linecap="butt"/>
<line x1="1246.0" y1="1504.0" x2="1246.0" y2="1797.4" stroke="#fff" stroke-width="2.0" stroke-linecap="butt"/>
<line x1="842.4" y1="1534.0" x2="1266.7" y2="1534.0" stroke="#fff" stroke-width="2.0" stroke-linecap="butt"/>
<line x1="842.4" y1="1563.7" x2="1266.7" y2="1563.7" stroke="#fff" stroke-width="2.0" stroke-linecap="butt"/>
<line x1="842.4" y1="1592.5" x2="1266.7" y2="1592.5" stroke="#fff" stroke-width="2.0" stroke-linecap="butt"/>
<line x1="842.4" y1="1621.8" x2="1266.7" y2="1621.8" stroke="#fff" stroke-width="2.0" stroke-linecap="butt"/>
<line x1="842.4" y1="1651.4" x2="1266.7" y2="1651.4" stroke="#fff" stroke-width="2.0" stroke-linecap="butt"/>
<line x1="842.4" y1="1680.6" x2="1266.7" y2="1680.6" stroke="#fff" stroke-width="2.0" stroke-linecap="butt"/>
<line x1="842.4" y1="1709.7" x2="1266.7" y2="1709.7" stroke="#fff" stroke-width="2.0" stroke-linecap="butt"/>
<line x1="842.4" y1="1739.3" x2="1266.7" y2="1739.3" stroke="#fff" stroke-width="2.0" stroke-linecap="butt"/>
<line x1="842.4" y1="1768.9" x2="1266.7" y2="1768.9" stroke="#fff" stroke-width="2.0" stroke-linecap="butt"/>
<path d="M1016.40,1562.20 L1016.28,1566.29 L1015.93,1570.43 L1015.35,1574.60 L1014.53,1578.81 L1013.49,1583.02 L1012.22,1587.25 L1010.73,1591.46 L1009.02,1595.66 L1007.09,1599.82 L1004.96,1603.94 L1002.62,1608.01 L1000.09,1612.02 L997.37,1615.95 L994.46,1619.79 L991.39,1623.53 L988.14,1627.17 L984.74,1630.69 L981.20,1634.09 L977.51,1637.35 L973.70,1640.46 L969.77,1643.42 L965.74,1646.22 L961.60,1648.85 L957.39,1651.30 L953.10,1653.57 L948.76,1655.65 L944.36,1657.54 L939.93,1659.22 L935.47,1660.70 L931.00,1661.97 L926.53,1663.03 L922.07,1663.87 L917.64,1664.50 L913.24,1664.90 L908.90,1665.09 L904.61,1665.05 L900.40,1664.79 L896.26,1664.32 L892.23,1663.62 L888.30,1662.71 L884.49,1661.58 L880.80,1660.24 L877.26,1658.70 L873.86,1656.95 L870.61,1655.00 L867.54,1652.86 L864.63,1650.53 L861.91,1648.01 L859.38,1645.33 L857.04,1642.48 L854.91,1639.47 L852.98,1636.31 L851.27,1633.00 L849.78,1629.56 L848.51,1626.00 L847.47,1622.33 L846.65,1618.55 L846.07,1614.68 L845.72,1610.72 L845.60,1606.70 L845.72,1602.61 L846.07,1598.47 L846.65,1594.30 L847.47,1590.09 L848.51,1585.88 L849.78,1581.65 L851.27,1577.44 L852.98,1573.24 L854.91,1569.08 L857.04,1564.96 L859.38,1560.89 L861.91,1556.88 L864.63,1552.95 L867.54,1549.11 L870.61,1545.37 L873.86,1541.73 L877.26,1538.21 L880.80,1534.81 L884.49,1531.55 L888.30,1528.44 L892.23,1525.48 L896.26,1522.68 L900.40,1520.05 L904.61,1517.60 L908.90,1515.33 L913.24,1513.25 L917.64,1511.36 L922.07,1509.68 L926.53,1508.20 L931.00,1506.93 L935.47,1505.87 L939.93,1505.03 L944.36,1504.40 L948.76,1504.00 L953.10,1503.81 L957.39,1503.85 L961.60,1504.11 L965.74,1504.58 L969.77,1505.28 L973.70,1506.19 L977.51,1507.32 L981.20,1508.66 L984.74,1510.20 L988.14,1511.95 L991.39,1513.90 L994.46,1516.04 L997.37,1518.37 L1000.09,1520.89 L1002.62,1523.57 L1004.96,1526.42 L1007.09,1529.43 L1009.02,1532.59 L1010.73,1535.90 L1012.22,1539.34 L1013.49,1542.90 L1014.53,1546.57 L1015.35,1550.35 L1015.93,1554.22 L1016.28,1558.18 Z" fill="none" stroke="#000" stroke-width="2.75"/>
<path d="M1044.60,1669.95 L1044.51,1672.25 L1044.26,1674.63 L1043.83,1677.09 L1043.23,1679.62 L1042.47,1682.22 L1041.54,1684.88 L1040.45,1687.58 L1039.19,1690.33 L1037.78,1693.12 L1036.22,1695.93 L1034.51,1698.76 L1032.65,1701.60 L1030.66,1704.45 L1028.53,1707.30 L1026.28,1710.13 L1023.90,1712.94 L1021.41,1715.73 L1018.82,1718.48 L1016.12,1721.20 L1013.32,1723.86 L1010.45,1726.46 L1007.49,1729.01 L1004.47,1731.48 L1001.38,1733.87 L998.24,1736.18 L995.05,1738.40 L991.83,1740.52 L988.59,1742.54 L985.32,1744.45 L982.05,1746.25 L978.78,1747.93 L975.51,1749.49 L972.27,1750.93 L969.05,1752.23 L965.86,1753.39 L962.72,1754.42 L959.63,1755.31 L956.61,1756.06 L953.65,1756.66 L950.77,1757.11 L947.98,1757.42 L945.28,1757.58 L942.69,1757.59 L940.20,1757.45 L937.82,1757.16 L935.57,1756.72 L933.44,1756.14 L931.45,1755.41 L929.59,1754.54 L927.88,1753.52 L926.32,1752.37 L924.91,1751.09 L923.65,1749.67 L922.56,1748.13 L921.63,1746.46 L920.87,1744.68 L920.27,1742.78 L919.84,1740.77 L919.59,1738.66 L919.50,1736.45 L919.59,1734.15 L919.84,1731.77 L920.27,1729.31 L920.87,1726.78 L921.63,1724.18 L922.56,1721.52 L923.65,1718.82 L924.91,1716.07 L926.32,1713.28 L927.88,1710.47 L929.59,1707.64 L931.45,1704.80 L933.44,1701.95 L935.57,1699.10 L937.82,1696.27 L940.20,1693.46 L942.69,1690.67 L945.28,1687.92 L947.98,1685.20 L950.77,1682.54 L953.65,1679.94 L956.61,1677.39 L959.63,1674.92 L962.72,1672.53 L965.86,1670.22 L969.05,1668.00 L972.27,1665.88 L975.51,1663.86 L978.78,1661.95 L982.05,1660.15 L985.32,1658.47 L988.59,1656.91 L991.83,1655.47 L995.05,1654.17 L998.24,1653.01 L1001.38,1651.98 L1004.47,1651.09 L1007.49,1650.34 L1010.45,1649.74 L1013.32,1649.29 L1016.12,1648.98 L1018.82,1648.82 L1021.41,1648.81 L1023.90,1648.95 L1026.28,1649.24 L1028.53,1649.68 L1030.66,1650.26 L1032.65,1650.99 L1034.51,1651.86 L1036.22,1652.88 L1037.78,1654.03 L1039.19,1655.31 L1040.45,1656.73 L1041.54,1658.27 L1042.47,1659.94 L1043.23,1661.72 L1043.83,1663.62 L1044.26,1665.63 L1044.51,1667.74 Z" fill="none" stroke="#ee1111" stroke-width="2.75"/>
<path d="M1225.00,1549.68 L1224.91,1554.64 L1224.64,1559.75 L1224.18,1565.03 L1223.54,1570.44 L1222.73,1575.97 L1221.74,1581.61 L1220.58,1587.35 L1219.24,1593.16 L1217.74,1599.04 L1216.08,1604.96 L1214.26,1610.91 L1212.28,1616.87 L1210.16,1622.83 L1207.89,1628.77 L1205.49,1634.67 L1202.96,1640.52 L1200.31,1646.31 L1197.55,1652.00 L1194.67,1657.60 L1191.70,1663.09 L1188.64,1668.44 L1185.49,1673.65 L1182.27,1678.70 L1178.98,1683.57 L1175.64,1688.26 L1172.25,1692.75 L1168.82,1697.03 L1165.36,1701.09 L1161.89,1704.91 L1158.40,1708.49 L1154.91,1711.81 L1151.44,1714.87 L1147.98,1717.66 L1144.55,1720.16 L1141.16,1722.38 L1137.82,1724.31 L1134.53,1725.94 L1131.31,1727.27 L1128.16,1728.29 L1125.10,1729.00 L1122.13,1729.40 L1119.25,1729.49 L1116.49,1729.27 L1113.84,1728.74 L1111.31,1727.89 L1108.91,1726.74 L1106.64,1725.28 L1104.52,1723.53 L1102.54,1721.47 L1100.72,1719.13 L1099.06,1716.50 L1097.56,1713.60 L1096.22,1710.43 L1095.06,1706.99 L1094.07,1703.31 L1093.26,1699.39 L1092.62,1695.24 L1092.16,1690.86 L1091.89,1686.29 L1091.80,1681.52 L1091.89,1676.56 L1092.16,1671.45 L1092.62,1666.17 L1093.26,1660.76 L1094.07,1655.23 L1095.06,1649.59 L1096.22,1643.85 L1097.56,1638.04 L1099.06,1632.16 L1100.72,1626.24 L1102.54,1620.29 L1104.52,1614.33 L1106.64,1608.37 L1108.91,1602.43 L1111.31,1596.53 L1113.84,1590.68 L1116.49,1584.89 L1119.25,1579.20 L1122.13,1573.60 L1125.10,1568.11 L1128.16,1562.76 L1131.31,1557.55 L1134.53,1552.50 L1137.82,1547.63 L1141.16,1542.94 L1144.55,1538.45 L1147.98,1534.17 L1151.44,1530.11 L1154.91,1526.29 L1158.40,1522.71 L1161.89,1519.39 L1165.36,1516.33 L1168.82,1513.54 L1172.25,1511.04 L1175.64,1508.82 L1178.98,1506.89 L1182.27,1505.26 L1185.49,1503.93 L1188.64,1502.91 L1191.70,1502.20 L1194.67,1501.80 L1197.55,1501.71 L1200.31,1501.93 L1202.96,1502.46 L1205.49,1503.31 L1207.89,1504.46 L1210.16,1505.92 L1212.28,1507.67 L1214.26,1509.73 L1216.08,1512.07 L1217.74,1514.70 L1219.24,1517.60 L1220.58,1520.77 L1221.74,1524.21 L1222.73,1527.89 L1223.54,1531.81 L1224.18,1535.96 L1224.64,1540.34 L1224.91,1544.91 Z" fill="none" stroke="#1f8c33" stroke-width="2.75"/>
<path d="M1264.10,1634.89 L1264.01,1637.41 L1263.73,1640.13 L1263.27,1643.04 L1262.63,1646.13 L1261.81,1649.39 L1260.81,1652.82 L1259.64,1656.41 L1258.29,1660.14 L1256.78,1664.00 L1255.10,1667.99 L1253.27,1672.09 L1251.28,1676.29 L1249.14,1680.58 L1246.85,1684.96 L1244.43,1689.40 L1241.88,1693.89 L1239.21,1698.43 L1236.42,1702.99 L1233.52,1707.58 L1230.52,1712.17 L1227.44,1716.75 L1224.26,1721.31 L1221.01,1725.84 L1217.70,1730.32 L1214.33,1734.74 L1210.91,1739.10 L1207.45,1743.37 L1203.97,1747.55 L1200.46,1751.63 L1196.95,1755.59 L1193.44,1759.42 L1189.93,1763.12 L1186.45,1766.67 L1182.99,1770.06 L1179.57,1773.29 L1176.20,1776.34 L1172.89,1779.20 L1169.64,1781.88 L1166.46,1784.36 L1163.37,1786.63 L1160.38,1788.68 L1157.48,1790.53 L1154.69,1792.15 L1152.02,1793.54 L1149.47,1794.70 L1147.05,1795.63 L1144.76,1796.32 L1142.62,1796.77 L1140.63,1796.98 L1138.80,1796.95 L1137.12,1796.69 L1135.61,1796.18 L1134.26,1795.44 L1133.09,1794.46 L1132.09,1793.24 L1131.27,1791.80 L1130.63,1790.13 L1130.17,1788.24 L1129.89,1786.13 L1129.80,1783.81 L1129.89,1781.29 L1130.17,1778.57 L1130.63,1775.66 L1131.27,1772.57 L1132.09,1769.31 L1133.09,1765.88 L1134.26,1762.29 L1135.61,1758.56 L1137.12,1754.70 L1138.80,1750.71 L1140.63,1746.61 L1142.62,1742.41 L1144.76,1738.12 L1147.05,1733.74 L1149.47,1729.30 L1152.02,1724.81 L1154.69,1720.27 L1157.48,1715.71 L1160.38,1711.12 L1163.37,1706.53 L1166.46,1701.95 L1169.64,1697.39 L1172.89,1692.86 L1176.20,1688.38 L1179.57,1683.96 L1182.99,1679.60 L1186.45,1675.33 L1189.93,1671.15 L1193.44,1667.07 L1196.95,1663.11 L1200.46,1659.28 L1203.97,1655.58 L1207.45,1652.03 L1210.91,1648.64 L1214.33,1645.41 L1217.70,1642.36 L1221.01,1639.50 L1224.26,1636.82 L1227.44,1634.34 L1230.52,1632.07 L1233.52,1630.02 L1236.42,1628.17 L1239.21,1626.55 L1241.88,1625.16 L1244.43,1624.00 L1246.85,1623.07 L1249.14,1622.38 L1251.28,1621.93 L1253.27,1621.72 L1255.10,1621.75 L1256.78,1622.01 L1258.29,1622.52 L1259.64,1623.26 L1260.81,1624.24 L1261.81,1625.46 L1262.63,1626.90 L1263.27,1628.57 L1263.73,1630.46 L1264.01,1632.57 Z" fill="none" stroke="#1515f0" stroke-width="2.75"/>
<circle cx="982.9" cy="1519.6" r="5.4" fill="#000"/>
<circle cx="984.1" cy="1533.1" r="5.4" fill="#000"/>
<circle cx="991.9" cy="1577.5" r="5.4" fill="#000"/>
<circle cx="861.8" cy="1589.4" r="5.4" fill="#000"/>
<circle cx="965.7" cy="1636.2" r="5.4" fill="#000"/>
<circle cx="887.8" cy="1651.4" r="5.4" fill="#000"/>
<circle cx="1024.0" cy="1656.5" r="5.4" fill="#ee1111"/>
<circle cx="1015.9" cy="1667.5" r="5.4" fill="#ee1111"/>
<circle cx="996.0" cy="1683.5" r="5.4" fill="#ee1111"/>
<circle cx="931.9" cy="1742.7" r="5.4" fill="#ee1111"/>
<circle cx="951.7" cy="1748.6" r="5.4" fill="#ee1111"/>
<circle cx="968.6" cy="1739.3" r="5.4" fill="#ee1111"/>
<circle cx="1174.9" cy="1517.9" r="5.4" fill="#1f8c33"/>
<circle cx="1218.0" cy="1559.3" r="5.4" fill="#1f8c33"/>
<circle cx="1192.6" cy="1580.4" r="5.4" fill="#1f8c33"/>
<circle cx="1179.1" cy="1662.4" r="5.4" fill="#1f8c33"/>
<circle cx="1149.2" cy="1689.4" r="5.4" fill="#1f8c33"/>
<circle cx="1132.3" cy="1719.0" r="5.4" fill="#1f8c33"/>
<circle cx="1246.7" cy="1630.3" r="5.4" fill="#1515f0"/>
<circle cx="1228.6" cy="1657.3" r="5.4" fill="#1515f0"/>
<circle cx="1204.0" cy="1676.7" r="5.4" fill="#1515f0"/>
<circle cx="1178.3" cy="1702.9" r="5.4" fill="#1515f0"/>
<circle cx="1190.5" cy="1704.6" r="5.4" fill="#1515f0"/>
<circle cx="1142.8" cy="1784.9" r="5.4" fill="#1515f0"/>
<text x="919.99" y="1834.00" font-size="35.51" textLength="289.54" lengthAdjust="spacingAndGlyphs">PC1: 37% variance</text>
<text x="0" y="0" font-size="35.80" textLength="289.13" lengthAdjust="spacingAndGlyphs" transform="translate(826.90 1804.40) rotate(-90)">PC2: 14% variance</text>
<text x="1315.57" y="1581.70" font-size="30.29" textLength="187.64" lengthAdjust="spacingAndGlyphs" fill="#d81620">CHD:2 weeks</text>
<circle cx="1305.3" cy="1572.1" r="4.5" fill="#ee1111"/>
<text x="1315.57" y="1632.60" font-size="30.29" textLength="204.72" lengthAdjust="spacingAndGlyphs">CHD:10 weeks</text>
<circle cx="1305.3" cy="1622.3" r="4.5" fill="#000"/>
<text x="1318.45" y="1682.40" font-size="29.57" textLength="170.18" lengthAdjust="spacingAndGlyphs" fill="#1c1cd0">WD:2 weeks</text>
<circle cx="1305.3" cy="1671.4" r="4.5" fill="#1515f0"/>
<text x="1318.45" y="1732.60" font-size="30.72" textLength="186.97" lengthAdjust="spacingAndGlyphs" fill="#1e8a3a">WD:10 weeks</text>
<circle cx="1305.3" cy="1720.8" r="4.5" fill="#1f8c33"/>
</svg>
</body></html>
